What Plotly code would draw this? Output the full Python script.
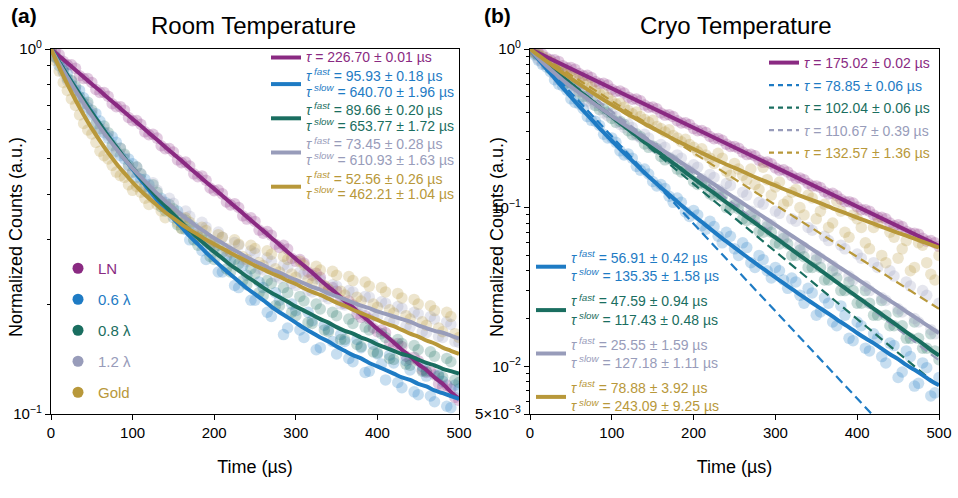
import plotly.graph_objects as go

# ---------------- data ----------------
t10 = list(range(0, 501, 10))      # measured points on the 10 µs grid
t10_mid = list(range(5, 500, 10))  # measured points in between
t50 = list(range(0, 501, 50))

# Panel (a) Room temperature: measured (normalized) counts
ln_a = [1.00,0.965,0.905,0.885,0.830,0.810,0.760,0.742,0.695,0.680,0.636,0.622,0.582,0.570,0.533,0.522,0.488,0.478,0.447,0.437,0.409,0.401,0.374,0.368,0.342,0.337,0.313,0.309,0.286,0.283,0.262,0.259,0.240,0.237,0.219,0.217,0.201,0.199,0.184,0.182,0.168,0.167,0.154,0.153,0.141,0.140,0.130,0.128,0.119,0.117,0.109]
ln_a_mid = [0.985,0.925,0.905,0.845,0.83,0.775,0.76,0.708,0.695,0.649,0.637,0.593,0.584,0.543,0.534,0.497,0.490,0.455,0.449,0.416,0.411,0.381,0.377,0.349,0.345,0.319,0.316,0.292,0.290,0.267,0.265,0.245,0.243,0.224,0.222,0.205,0.204,0.188,0.186,0.172,0.170,0.157,0.156,0.144,0.143,0.132,0.131,0.121,0.120,0.111]
l06_a = [1.00,0.90,0.855,0.77,0.735,0.66,0.635,0.57,0.555,0.50,0.485,0.44,0.425,0.39,0.38,0.345,0.345,0.30,0.305,0.265,0.285,0.245,0.262,0.222,0.240,0.205,0.222,0.185,0.205,0.172,0.192,0.162,0.180,0.152,0.170,0.146,0.158,0.139,0.152,0.131,0.146,0.124,0.138,0.118,0.132,0.113,0.127,0.108,0.123,0.104,0.117]
l06_a_mid = [0.95,0.89,0.80,0.77,0.69,0.665,0.59,0.575,0.51,0.50,0.445,0.44,0.395,0.39,0.36,0.36,0.32,0.325,0.28,0.29,0.245,0.27,0.225,0.255,0.205,0.23,0.19,0.215,0.165,0.20,0.17,0.19,0.15,0.175,0.158,0.165,0.142,0.16,0.13,0.155,0.137,0.145,0.122,0.14,0.115,0.135,0.112,0.128,0.105,0.12]
l08_a = [1.00,0.93,0.83,0.79,0.71,0.68,0.605,0.59,0.525,0.515,0.46,0.455,0.405,0.405,0.36,0.365,0.323,0.33,0.29,0.30,0.265,0.277,0.245,0.258,0.226,0.242,0.211,0.228,0.198,0.215,0.186,0.204,0.177,0.194,0.168,0.186,0.160,0.177,0.153,0.170,0.147,0.162,0.141,0.156,0.136,0.150,0.131,0.144,0.126,0.139,0.122]
l08_a_mid = [0.955,0.87,0.82,0.74,0.715,0.625,0.615,0.545,0.535,0.48,0.475,0.42,0.425,0.37,0.375,0.33,0.34,0.30,0.31,0.27,0.29,0.25,0.265,0.232,0.25,0.215,0.232,0.198,0.222,0.19,0.21,0.178,0.2,0.17,0.19,0.16,0.182,0.155,0.173,0.148,0.166,0.142,0.16,0.137,0.154,0.131,0.148,0.127,0.142,0.124]
l12_a = [1.00,0.92,0.82,0.78,0.695,0.67,0.595,0.58,0.52,0.51,0.46,0.455,0.415,0.41,0.375,0.378,0.343,0.348,0.317,0.325,0.295,0.305,0.277,0.290,0.262,0.276,0.248,0.262,0.236,0.252,0.225,0.242,0.216,0.233,0.207,0.224,0.199,0.216,0.192,0.209,0.185,0.201,0.179,0.195,0.173,0.188,0.167,0.182,0.162,0.176,0.157]
l12_a_mid = [0.95,0.86,0.815,0.73,0.705,0.62,0.605,0.54,0.535,0.475,0.475,0.425,0.43,0.385,0.39,0.35,0.36,0.32,0.335,0.30,0.315,0.28,0.295,0.265,0.28,0.25,0.268,0.238,0.256,0.228,0.245,0.218,0.235,0.21,0.226,0.2,0.218,0.193,0.21,0.186,0.203,0.18,0.197,0.174,0.19,0.168,0.185,0.163,0.179,0.158]
au_a = [1.00,0.87,0.77,0.70,0.625,0.585,0.525,0.50,0.46,0.445,0.41,0.405,0.375,0.375,0.345,0.355,0.322,0.335,0.305,0.318,0.290,0.305,0.278,0.292,0.265,0.284,0.255,0.274,0.245,0.265,0.237,0.256,0.228,0.248,0.220,0.240,0.212,0.232,0.204,0.224,0.196,0.216,0.189,0.208,0.182,0.200,0.175,0.192,0.168,0.185,0.162]
au_a_mid = [0.93,0.81,0.73,0.66,0.60,0.555,0.51,0.48,0.45,0.425,0.42,0.39,0.39,0.36,0.365,0.335,0.345,0.31,0.325,0.295,0.31,0.284,0.30,0.27,0.29,0.26,0.28,0.25,0.27,0.242,0.262,0.233,0.254,0.225,0.246,0.217,0.238,0.209,0.23,0.2,0.222,0.193,0.214,0.186,0.206,0.179,0.198,0.172,0.19,0.166]

# Panel (a) fitted curves
ln_a_fit = [1.000,0.957,0.916,0.876,0.838,0.802,0.768,0.734,0.703,0.672,0.643,0.616,0.589,0.564,0.539,0.516,0.494,0.472,0.452,0.432,0.414,0.396,0.379,0.363,0.347,0.332,0.318,0.304,0.291,0.278,0.266,0.255,0.244,0.233,0.223,0.214,0.204,0.196,0.187,0.179,0.171,0.164,0.157,0.150,0.144,0.137,0.132,0.126,0.121,0.115,0.110]
l06_a_fit = [1.000,0.920,0.848,0.783,0.724,0.670,0.622,0.577,0.538,0.501,0.468,0.438,0.411,0.386,0.364,0.343,0.325,0.307,0.292,0.277,0.264,0.252,0.241,0.231,0.221,0.213,0.205,0.197,0.190,0.184,0.178,0.172,0.167,0.162,0.158,0.153,0.149,0.145,0.142,0.138,0.135,0.132,0.129,0.126,0.124,0.121,0.119,0.116,0.114,0.112,0.110]
l08_a_fit = [1.000,0.919,0.846,0.781,0.722,0.668,0.621,0.577,0.539,0.503,0.472,0.443,0.417,0.393,0.372,0.352,0.335,0.318,0.304,0.290,0.278,0.267,0.256,0.247,0.238,0.230,0.222,0.215,0.209,0.203,0.197,0.192,0.187,0.182,0.178,0.173,0.169,0.166,0.162,0.159,0.155,0.152,0.149,0.146,0.144,0.141,0.138,0.136,0.133,0.131,0.129]
l12_a_fit = [1.000,0.913,0.837,0.769,0.710,0.657,0.610,0.569,0.533,0.500,0.471,0.446,0.423,0.402,0.383,0.367,0.351,0.338,0.325,0.314,0.303,0.294,0.285,0.277,0.269,0.262,0.256,0.249,0.244,0.238,0.233,0.228,0.223,0.219,0.214,0.210,0.206,0.202,0.198,0.195,0.191,0.188,0.185,0.182,0.179,0.175,0.172,0.169,0.167,0.164,0.161]
au_a_fit = [1.000,0.892,0.801,0.725,0.661,0.606,0.560,0.520,0.486,0.457,0.431,0.409,0.390,0.373,0.357,0.344,0.331,0.320,0.310,0.300,0.292,0.284,0.276,0.269,0.262,0.255,0.249,0.243,0.238,0.232,0.227,0.221,0.216,0.212,0.207,0.202,0.198,0.193,0.189,0.185,0.181,0.177,0.174,0.170,0.166,0.163,0.159,0.156,0.152,0.149,0.146]

# Panel (b) Cryo temperature: measured (normalized) counts
ln_b = [1.00,0.955,0.880,0.855,0.785,0.765,0.700,0.682,0.624,0.608,0.557,0.543,0.497,0.484,0.443,0.431,0.395,0.385,0.353,0.343,0.315,0.306,0.281,0.273,0.251,0.243,0.224,0.217,0.199,0.194,0.178,0.173,0.159,0.154,0.142,0.137,0.126,0.123,0.113,0.109,0.101,0.097,0.090,0.087,0.080,0.078,0.071,0.069,0.064,0.062,0.057]
ln_b_mid = [0.96,0.93,0.855,0.835,0.762,0.745,0.678,0.662,0.605,0.592,0.54,0.528,0.482,0.471,0.430,0.420,0.383,0.375,0.342,0.334,0.305,0.298,0.272,0.266,0.243,0.237,0.216,0.212,0.193,0.189,0.172,0.168,0.153,0.150,0.137,0.134,0.122,0.119,0.109,0.107,0.097,0.095,0.087,0.085,0.077,0.076,0.069,0.068,0.0615,0.060]
l06_b = [1.00,0.85,0.77,0.64,0.585,0.485,0.45,0.375,0.35,0.29,0.275,0.228,0.218,0.182,0.175,0.146,0.14,0.118,0.115,0.094,0.096,0.077,0.082,0.066,0.070,0.055,0.060,0.045,0.050,0.040,0.042,0.035,0.036,0.028,0.031,0.021,0.027,0.019,0.024,0.015,0.019,0.013,0.016,0.0115,0.014,0.0085,0.0125,0.0075,0.0105,0.0065,0.0085]
l06_b_mid = [0.92,0.80,0.72,0.60,0.55,0.46,0.42,0.355,0.33,0.275,0.258,0.215,0.205,0.172,0.163,0.137,0.132,0.108,0.108,0.088,0.090,0.073,0.076,0.060,0.066,0.050,0.056,0.042,0.047,0.036,0.040,0.031,0.034,0.025,0.029,0.022,0.025,0.018,0.021,0.0145,0.018,0.0125,0.015,0.0105,0.0135,0.0092,0.0115,0.0078,0.0098,0.0068]
l08_b = [1.00,0.91,0.80,0.745,0.65,0.61,0.535,0.505,0.44,0.42,0.365,0.35,0.305,0.292,0.252,0.245,0.21,0.205,0.175,0.172,0.146,0.145,0.122,0.122,0.100,0.104,0.085,0.090,0.071,0.076,0.060,0.064,0.050,0.054,0.042,0.047,0.035,0.040,0.030,0.034,0.025,0.030,0.021,0.026,0.018,0.022,0.015,0.019,0.013,0.016,0.011]
l08_b_mid = [0.94,0.87,0.75,0.71,0.61,0.585,0.50,0.485,0.415,0.40,0.345,0.335,0.288,0.28,0.24,0.235,0.20,0.198,0.168,0.166,0.140,0.138,0.118,0.117,0.099,0.098,0.083,0.083,0.070,0.070,0.059,0.059,0.050,0.049,0.042,0.042,0.035,0.036,0.030,0.030,0.025,0.025,0.021,0.021,0.018,0.018,0.015,0.015,0.013,0.0125]
l12_b = [1.00,0.87,0.80,0.69,0.65,0.565,0.545,0.47,0.46,0.395,0.39,0.335,0.335,0.285,0.29,0.243,0.25,0.208,0.215,0.178,0.186,0.152,0.162,0.13,0.142,0.11,0.125,0.095,0.108,0.08,0.095,0.068,0.085,0.058,0.075,0.05,0.066,0.043,0.058,0.037,0.051,0.032,0.045,0.027,0.04,0.023,0.034,0.02,0.03,0.017,0.025]
l12_b_mid = [0.95,0.82,0.76,0.65,0.625,0.54,0.52,0.45,0.44,0.38,0.375,0.32,0.32,0.275,0.275,0.235,0.24,0.20,0.205,0.17,0.18,0.145,0.155,0.125,0.138,0.105,0.12,0.09,0.105,0.078,0.092,0.065,0.082,0.056,0.072,0.048,0.062,0.04,0.055,0.035,0.048,0.03,0.042,0.026,0.037,0.022,0.032,0.019,0.028,0.016]
au_b = [1.00,0.93,0.86,0.80,0.74,0.69,0.635,0.60,0.545,0.52,0.47,0.455,0.41,0.40,0.36,0.355,0.315,0.31,0.275,0.27,0.24,0.235,0.205,0.22,0.17,0.19,0.16,0.175,0.13,0.15,0.135,0.105,0.125,0.10,0.12,0.085,0.105,0.08,0.095,0.065,0.085,0.06,0.075,0.05,0.07,0.048,0.062,0.042,0.058,0.038,0.05]
au_b_mid = [0.96,0.90,0.83,0.77,0.71,0.66,0.61,0.575,0.52,0.495,0.45,0.43,0.39,0.375,0.345,0.325,0.30,0.285,0.26,0.25,0.225,0.215,0.19,0.205,0.16,0.175,0.15,0.14,0.18,0.12,0.145,0.11,0.13,0.09,0.115,0.095,0.075,0.11,0.07,0.09,0.075,0.055,0.08,0.045,0.065,0.055,0.04,0.06,0.045,0.035]

# Panel (b) bi-exponential fits (solid)
ln_b_fit = [1.000,0.9445,0.892,0.8425,0.7957,0.7515,0.7098,0.6703,0.6331,0.5979,0.5647,0.5334,0.5038,0.4758,0.4493,0.4244,0.4008,0.3785,0.3575,0.3377,0.3189,0.3012,0.2845,0.2687,0.2538,0.2397,0.2264,0.2138,0.2019,0.1907,0.1801,0.1701,0.1607,0.1517,0.1433,0.1354,0.1278,0.1207,0.1140,0.1077,0.1017,0.0961,0.0907,0.0857,0.0809,0.0764,0.0722,0.0682,0.0644,0.0608,0.0574]
l06_b_fit = [1.000,0.866,0.751,0.654,0.570,0.498,0.437,0.384,0.338,0.298,0.264,0.234,0.209,0.186,0.166,0.149,0.134,0.121,0.109,0.0985,0.0892,0.0811,0.0737,0.0671,0.0612,0.0560,0.0512,0.0469,0.0430,0.0395,0.0363,0.0334,0.0307,0.0283,0.0261,0.0241,0.0223,0.0206,0.0190,0.0176,0.0162,0.0150,0.0140,0.0129,0.0119,0.0111,0.0102,0.0095,0.0088,0.0081,0.0076]
l08_b_fit = [1.000,0.900,0.811,0.733,0.663,0.601,0.545,0.495,0.451,0.410,0.374,0.341,0.312,0.285,0.260,0.238,0.218,0.199,0.183,0.167,0.153,0.140,0.129,0.118,0.108,0.0993,0.0910,0.0836,0.0767,0.0704,0.0646,0.0593,0.0544,0.0499,0.0458,0.0421,0.0386,0.0354,0.0325,0.0298,0.0274,0.0252,0.0231,0.0212,0.0195,0.0179,0.0164,0.0151,0.0139,0.0127,0.0117]
l12_b_fit = [1.000,0.881,0.784,0.705,0.638,0.581,0.530,0.486,0.446,0.411,0.378,0.349,0.322,0.297,0.274,0.2535,0.2339,0.2162,0.1999,0.1848,0.1708,0.1579,0.1459,0.1349,0.1247,0.1153,0.1066,0.0985,0.0911,0.0842,0.0778,0.0719,0.0665,0.0615,0.0568,0.0525,0.0486,0.0449,0.0415,0.0384,0.0355,0.0328,0.0303,0.0280,0.0259,0.0240,0.0221,0.0205,0.0189,0.0175,0.0162]
au_b_fit = [1.000,0.915,0.838,0.770,0.708,0.653,0.602,0.557,0.516,0.479,0.445,0.415,0.387,0.362,0.338,0.317,0.298,0.280,0.263,0.248,0.234,0.221,0.209,0.198,0.187,0.178,0.169,0.160,0.152,0.145,0.138,0.131,0.125,0.119,0.114,0.109,0.104,0.099,0.0946,0.0905,0.0865,0.0828,0.0792,0.0757,0.0725,0.0694,0.0665,0.0637,0.0610,0.0584,0.0560]

# Panel (b) single-exponential fits (dashed)
l06_b_single = [1,0.5304,0.2813,0.1492,0.0791,0.0420,0.0223,0.0118,0.00627,0.00332,0.00176]
l08_b_single = [1,0.6126,0.3753,0.2299,0.1408,0.0863,0.0529,0.0324,0.0198,0.0122,0.00745]
l12_b_single = [1,0.6365,0.4052,0.2579,0.1642,0.1045,0.0665,0.0423,0.0270,0.0172,0.0109]
au_b_single = [1,0.6858,0.4703,0.3225,0.2212,0.1517,0.1040,0.0713,0.0489,0.0336,0.0230]

sample_names = ["LN", "0.6 λ", "0.8 λ", "1.2 λ", "Gold"]
colors = ["#8a2a82", "#1e7bc4", "#1a6e60", "#989cba", "#b8983a"]

labels_a = [
    "<i>τ</i> = 226.70 ± 0.01 µs",
    "<i>τ</i><sup> <i>fast</i></sup> = 95.93 ± 0.18 µs<br><i>τ</i><sup> <i>slow</i></sup> = 640.70 ± 1.96 µs",
    "<i>τ</i><sup> <i>fast</i></sup> = 89.66 ± 0.20 µs<br><i>τ</i><sup> <i>slow</i></sup> = 653.77 ± 1.72 µs",
    "<i>τ</i><sup> <i>fast</i></sup> = 73.45 ± 0.28 µs<br><i>τ</i><sup> <i>slow</i></sup> = 610.93 ± 1.63 µs",
    "<i>τ</i><sup> <i>fast</i></sup> = 52.56 ± 0.26 µs<br><i>τ</i><sup> <i>slow</i></sup> = 462.21 ± 1.04 µs",
]
labels_b_single = [
    "<i>τ</i> = 175.02 ± 0.02 µs",
    "<i>τ</i> = 78.85 ± 0.06 µs",
    "<i>τ</i> = 102.04 ± 0.06 µs",
    "<i>τ</i> = 110.67 ± 0.39 µs",
    "<i>τ</i> = 132.57 ± 1.36 µs",
]
labels_b_bi = [
    "<i>τ</i><sup> <i>fast</i></sup> = 56.91 ± 0.42 µs<br><i>τ</i><sup> <i>slow</i></sup> = 135.35 ± 1.58 µs",
    "<i>τ</i><sup> <i>fast</i></sup> = 47.59 ± 0.94 µs<br><i>τ</i><sup> <i>slow</i></sup> = 117.43 ± 0.48 µs",
    "<i>τ</i><sup> <i>fast</i></sup> = 25.55 ± 1.59 µs<br><i>τ</i><sup> <i>slow</i></sup> = 127.18 ± 1.11 µs",
    "<i>τ</i><sup> <i>fast</i></sup> = 78.88 ± 3.92 µs<br><i>τ</i><sup> <i>slow</i></sup> = 243.09 ± 9.25 µs",
]

data_a = [(ln_a, ln_a_mid), (l06_a, l06_a_mid), (l08_a, l08_a_mid), (l12_a, l12_a_mid), (au_a, au_a_mid)]
fit_a = [ln_a_fit, l06_a_fit, l08_a_fit, l12_a_fit, au_a_fit]
data_b = [(ln_b, ln_b_mid), (l06_b, l06_b_mid), (l08_b, l08_b_mid), (l12_b, l12_b_mid), (au_b, au_b_mid)]
fit_b = [ln_b_fit, l06_b_fit, l08_b_fit, l12_b_fit, au_b_fit]
single_b = [None, l06_b_single, l08_b_single, l12_b_single, au_b_single]

FONT = "Liberation Sans, Arial, Helvetica, sans-serif"


def col(c, txt, size=None):
    st = f"color:{c}" + (f";font-size:{size}px" if size else "")
    return f'<span style="{st}">{txt}</span>'


fig = go.Figure()

# scatter clouds (behind)
for panel, data, xa_, ya_ in (("a", data_a, "x", "y"), ("b", data_b, "x2", "y2")):
    for i in range(5):
        main, mid = data[i]
        fig.add_trace(go.Scatter(x=t10 + t10_mid, y=main + mid, mode="markers", xaxis=xa_, yaxis=ya_,
                                 marker=dict(size=11.5, color=colors[i], opacity=0.25, line=dict(width=0)),
                                 showlegend=False, hoverinfo="skip"))

# panel (a) fits -> legend (top right)
for i in range(5):
    fig.add_trace(go.Scatter(x=t10, y=fit_a[i], mode="lines", xaxis="x", yaxis="y",
                             line=dict(color=colors[i], width=4, shape="spline"),
                             name=col(colors[i], labels_a[i], 14), legend="legend",
                             legendgroup=f"a{i}"))

# panel (a) sample legend (lower left)
for i in range(5):
    fig.add_trace(go.Scatter(x=[None], y=[None], mode="markers", xaxis="x", yaxis="y",
                             marker=dict(size=11, color=colors[i]),
                             name=col(colors[i], sample_names[i]), legend="legend2",
                             legendgroup=f"s{i}"))

# panel (b) dashed single-exponential fits
for i in range(1, 5):
    fig.add_trace(go.Scatter(x=t50, y=single_b[i], mode="lines", xaxis="x2", yaxis="y2",
                             line=dict(color=colors[i], width=2.2, dash="9px,5px"),
                             showlegend=False, hoverinfo="skip"))

# panel (b) LN fit (solid) -> legend3
fig.add_trace(go.Scatter(x=t10, y=fit_b[0], mode="lines", xaxis="x2", yaxis="y2",
                         line=dict(color=colors[0], width=4),
                         name=col(colors[0], labels_b_single[0]), legend="legend3",
                         legendgroup="b0"))
for i in range(1, 5):
    fig.add_trace(go.Scatter(x=[None], y=[None], mode="lines", xaxis="x2", yaxis="y2",
                             line=dict(color=colors[i], width=2.2, dash="5px,4px"),
                             name=col(colors[i], labels_b_single[i]), legend="legend3",
                             legendgroup=f"b{i}"))

# panel (b) bi-exponential fits -> legend4
for i in range(1, 5):
    fig.add_trace(go.Scatter(x=t10, y=fit_b[i], mode="lines", xaxis="x2", yaxis="y2",
                             line=dict(color=colors[i], width=4, shape="spline"),
                             name=col(colors[i], labels_b_bi[i - 1]), legend="legend4",
                             legendgroup=f"c{i}"))

W, H = 958, 498


def px_x(p):
    return p / W


def px_y(p):
    return 1 - p / H


def minor_vals(lo_exp, hi_exp, start=None):
    vals = []
    for e in range(lo_exp, hi_exp):
        for m in range(2, 10):
            v = m * 10 ** e
            if start is None or v >= start:
                vals.append(v)
    return vals


axis_common = dict(showline=True, linecolor="black", linewidth=1.3, mirror=True,
                   ticks="outside", tickcolor="black", tickwidth=1.2, ticklen=5,
                   showgrid=False, zeroline=False,
                   tickfont=dict(family=FONT, size=15, color="black"),
                   automargin=False)

xa = dict(axis_common, range=[0, 500], tickvals=[0, 100, 200, 300, 400, 500],
          title=dict(text="Time (µs)", font=dict(family=FONT, size=18, color="black"), standoff=20))

fig.update_layout(
    width=W, height=H,
    margin=dict(l=0, r=0, t=0, b=0),
    paper_bgcolor="white", plot_bgcolor="white",
    font=dict(family=FONT, color="black"),
    xaxis=dict(xa, domain=[px_x(51), px_x(459)], anchor="y"),
    xaxis2=dict(xa, domain=[px_x(530), px_x(939)], anchor="y2"),
    yaxis=dict(axis_common, type="log", range=[-1, 0], anchor="x",
               domain=[px_y(414), px_y(49)],
               tickvals=[0.1, 1], ticktext=["10<sup>−1</sup>", "10<sup>0</sup>"],
               minor=dict(tickvals=minor_vals(-1, 0), ticks="outside", ticklen=3,
                          tickcolor="black", tickwidth=1)),
    yaxis2=dict(axis_common, type="log", range=[-2.30103, 0], anchor="x2",
                domain=[px_y(414), px_y(49)],
                tickvals=[0.005, 0.01, 0.1, 1],
                ticktext=["5×10<sup>−3</sup>", "10<sup>−2</sup>", "10<sup>−1</sup>", "10<sup>0</sup>"],
                minor=dict(tickvals=minor_vals(-3, 0, start=0.006), ticks="outside", ticklen=3,
                           tickcolor="black", tickwidth=1)),
    legend=dict(x=px_x(460), y=px_y(43), xanchor="right", yanchor="top",
                bgcolor="rgba(0,0,0,0)", borderwidth=0, font=dict(family=FONT, size=12),
                tracegroupgap=0, itemwidth=30),
    legend2=dict(x=px_x(58), y=px_y(252), xanchor="left", yanchor="top",
                 bgcolor="rgba(0,0,0,0)", borderwidth=0, font=dict(family=FONT, size=15),
                 tracegroupgap=8.5, itemwidth=30),
    legend3=dict(x=px_x(935), y=px_y(47), xanchor="right", yanchor="top",
                 bgcolor="rgba(0,0,0,0)", borderwidth=0, font=dict(family=FONT, size=14),
                 tracegroupgap=1.3, itemwidth=30),
    legend4=dict(x=px_x(531), y=px_y(242), xanchor="left", yanchor="top",
                 bgcolor="rgba(0,0,0,0)", borderwidth=0, font=dict(family=FONT, size=14),
                 tracegroupgap=4, itemwidth=30),
    annotations=[
        dict(text="Room Temperature", x=px_x(253), y=px_y(26), xref="paper", yref="paper",
             xanchor="center", yanchor="middle", showarrow=False,
             font=dict(family=FONT, size=24, color="black")),
        dict(text="Cryo Temperature", x=px_x(736), y=px_y(26), xref="paper", yref="paper",
             xanchor="center", yanchor="middle", showarrow=False,
             font=dict(family=FONT, size=24, color="black")),
        dict(text="<b>(a)</b>", x=px_x(24), y=px_y(15), xref="paper", yref="paper",
             xanchor="center", yanchor="middle", showarrow=False,
             font=dict(family=FONT, size=21, color="black")),
        dict(text="<b>(b)</b>", x=px_x(498), y=px_y(15), xref="paper", yref="paper",
             xanchor="center", yanchor="middle", showarrow=False,
             font=dict(family=FONT, size=21, color="black")),
        dict(text="Normalized Counts (a.u.)", x=px_x(16), y=px_y(237), xref="paper", yref="paper",
             xanchor="center", yanchor="middle", textangle=-90, showarrow=False,
             font=dict(family=FONT, size=18, color="black")),
        dict(text="Normalized Counts (a.u.)", x=px_x(497), y=px_y(237), xref="paper", yref="paper",
             xanchor="center", yanchor="middle", textangle=-90, showarrow=False,
             font=dict(family=FONT, size=18, color="black")),
    ],
)

fig.write_html("out.html")
